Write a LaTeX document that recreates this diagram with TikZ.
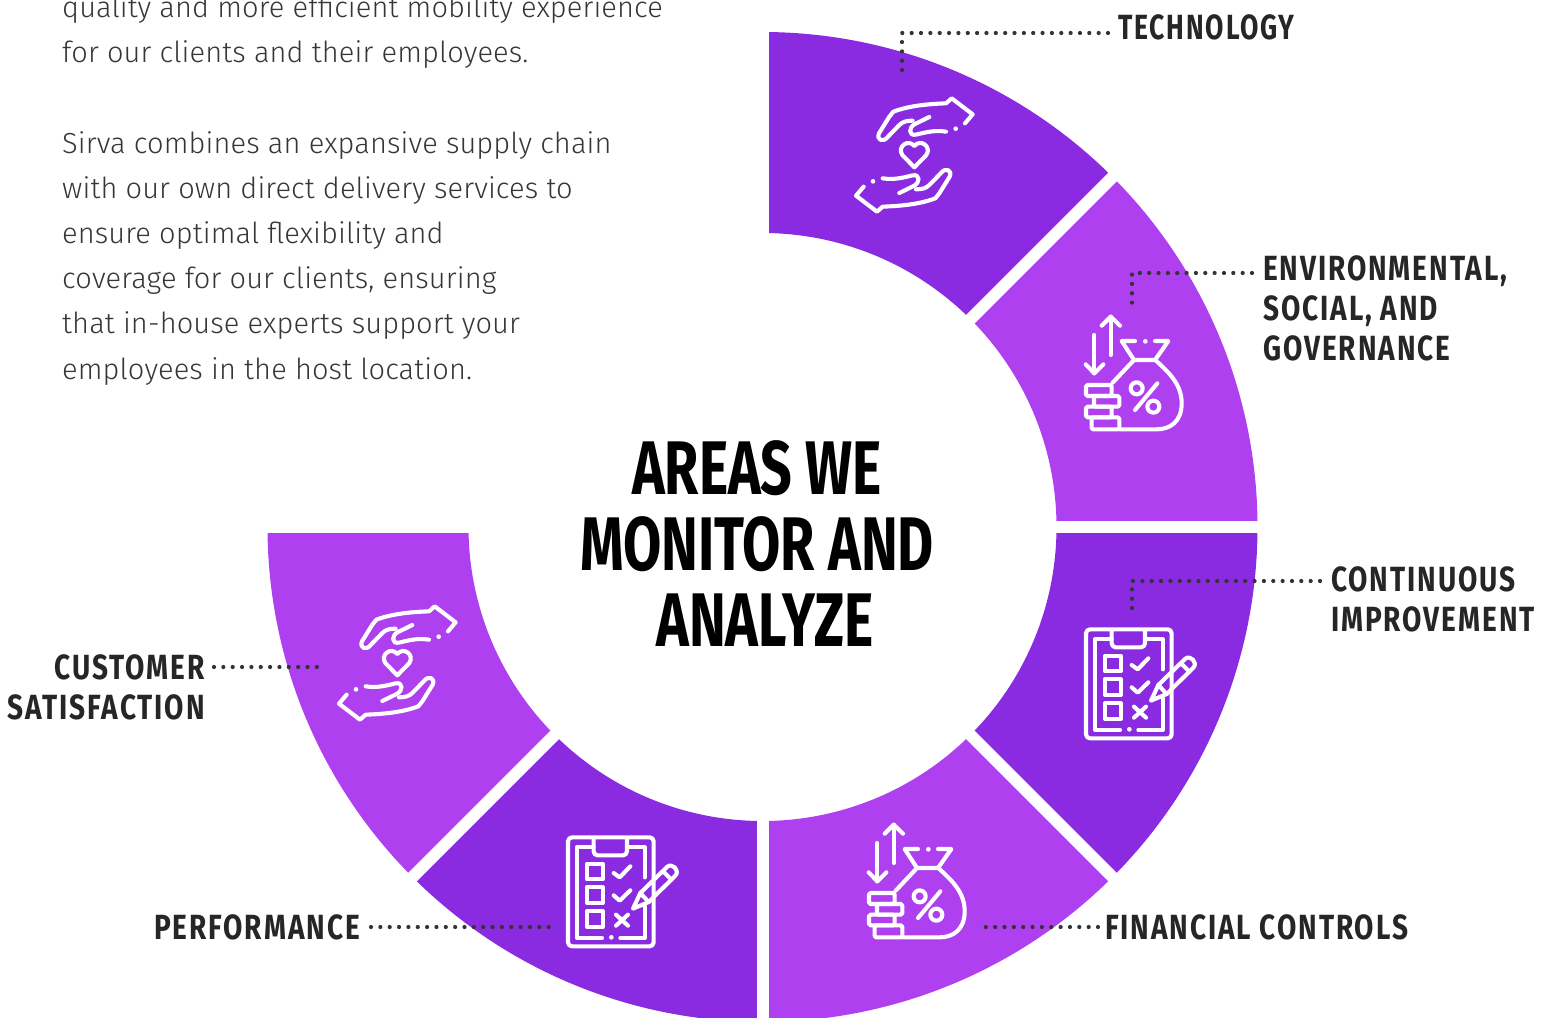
\documentclass[tikz,border=0pt]{standalone}
\usepackage{fontspec}
\usepackage{graphicx}
\setmainfont{Fira Sans Light}[BoldFont={Fira Sans Bold},LetterSpace=0.4]
\newfontfamily\headfont{Fira Sans Bold}[FakeStretch=0.73]
\newfontfamily\labelfont{Fira Sans Bold}[FakeStretch=0.8,LetterSpace=5.5]
\definecolor{darkseg}{HTML}{8A2BE2}
\definecolor{lightseg}{HTML}{AF40F0}
\definecolor{inktext}{HTML}{363636}
\definecolor{leaddot}{HTML}{333333}

\tikzset{
  iconline/.style={draw=white, line width=4.1pt, line cap=round, line join=round},
  icondot/.style={fill=white},
  leader/.style={draw=leaddot, line width=4.2pt, line cap=round, dash pattern=on 0pt off 9.35pt},
  arealabel/.style={font=\labelfont\fontsize{35}{40}\selectfont, text=black!85, inner sep=0pt},
}

\newcommand{\handsicon}[2]{
  \begin{scope}[shift={(#1,#2)}, scale=1/3]
    \foreach \turn in {0,180}{
      \begin{scope}[rotate around={\turn:(223,405)}]
        \draw[iconline] (375,310) -- (398,283) -- (335,235) -- (318,250)
          .. controls (260,252) and (205,258) .. (160,275) -- (148,290) -- (117,340)
          .. controls (108,360) and (130,368) .. (142,352) -- (178,315)
          .. controls (188,305) and (200,302) .. (218,302);
        \draw[iconline] (268,291) -- (225,312) .. controls (205,322) and (205,348) .. (228,344)
          .. controls (260,336) and (285,330) .. (318,335);
        \fill[icondot] (347,326) circle (7);
      \end{scope}
    }
    \draw[iconline] (223,442) -- (187,405) .. controls (170,380) and (205,355) .. (223,378)
      .. controls (241,355) and (276,380) .. (259,405) -- cycle;
  \end{scope}
}

\newcommand{\bagicon}[2]{
  \begin{scope}[shift={(#1,#2)}, scale=1/3]
    \draw[iconline] (122,285) -- (122,170);
    \draw[iconline] (95,197) -- (122,170) -- (150,197);
    \draw[iconline] (73,225) -- (73,340);
    \draw[iconline] (47,313) -- (73,340) -- (100,313);
    \draw[iconline] (195,243) -- (155,243) -- (192,300) -- (255,300) -- (295,243) -- (255,243);
    \fill[icondot] (226,244) circle (7);
    \draw[iconline] (190,302) -- (128,368);
    \draw[iconline] (258,302) .. controls (300,340) and (335,375) .. (335,430)
      .. controls (335,485) and (300,508) .. (260,508) -- (150,508);
    \draw[iconline, rounded corners=1.5pt] (48,375) rectangle (125,408);
    \draw[iconline, rounded corners=1.5pt] (72,408) rectangle (148,440);
    \draw[iconline, rounded corners=1.5pt] (48,440) rectangle (125,472);
    \draw[iconline, rounded corners=1.5pt] (65,472) rectangle (148,508);
    \draw[iconline] (200,385) circle (18);
    \draw[iconline] (250,440) circle (18);
    \draw[iconline] (195,450) -- (262,370);
  \end{scope}
}

\newcommand{\clipicon}[2]{
  \begin{scope}[shift={(#1,#2)}, scale=1/3]
    \draw[iconline, rounded corners=4pt] (48,178) rectangle (305,505);
    \draw[iconline] (125,208) -- (75,208) -- (75,480) -- (150,480);
    \fill[icondot] (178,478) circle (7);
    \draw[iconline] (205,480) -- (278,480) -- (278,385);
    \draw[iconline] (225,208) -- (278,208) -- (278,298);
    \draw[iconline, rounded corners=4pt] (125,180) -- (125,232) -- (225,232) -- (225,180);
    \foreach \boxy in {257,328,400}{
      \draw[iconline] (105,\boxy) rectangle (152,\boxy+47);
    }
    \draw[iconline] (185,285) -- (203,298) -- (235,265);
    \draw[iconline] (185,352) -- (203,368) -- (235,337);
    \draw[iconline] (192,410) -- (228,443);
    \draw[iconline] (228,410) -- (192,443);
    \draw[iconline] (243,392) -- (265,345) -- (345,267)
      .. controls (360,252) and (385,278) .. (370,293) -- (290,372) -- cycle;
    \draw[iconline] (333,280) -- (358,305);
    \draw[iconline] (265,345) -- (290,372);
  \end{scope}
}

\begin{document}
\begin{tikzpicture}[x=1pt, y=-1pt]
  \useasboundingbox (0,0) rectangle (1552,1017);
  \clip (0,0) rectangle (1552,1017);

  % ring
  \coordinate (hub) at (762.5,527);
  \foreach \a/\segcol in {-90/darkseg,-45/lightseg,0/darkseg,45/lightseg,90/darkseg,135/lightseg}{
    \fill[\segcol, shift={(hub)}] (\a:495) arc[start angle=\a, end angle=\a+45, radius=495]
      -- (\a+45:294) arc[start angle=\a+45, end angle=\a, radius=294] -- cycle;
  }
  \foreach \a in {-90,-45,0,45,90,135,180}{
    \draw[white, line width=12pt, shift={(hub)}] (\a:280) -- (\a:510);
  }

  % icons
  \handsicon{840}{20}
  \handsicon{323}{528}
  \bagicon{1070}{260}
  \bagicon{853}{768}
  \clipicon{1070}{570}
  \clipicon{552}{778}

  % text
  \node[anchor=north west, inner sep=0pt, align=left, text=inktext,
        font=\fontsize{29}{45.2}\selectfont] (introtext) at (62,-4.5) {%
    quality and more efficient mobility experience\\
    for our clients and their employees.\\[45.2pt]
    Sirva combines an expansive supply chain\\
    with our own direct delivery services to\\
    ensure optimal flexibility and\\
    coverage for our clients, ensuring\\
    that in-house experts support your\\
    employees in the host location.};

  \node[align=center, inner sep=0pt, text=black, font=\headfont\fontsize{76}{76}\selectfont] (areastitle) at (757,544) {%
    AREAS WE\\
    MONITOR AND\\
    \hspace*{16pt}ANALYZE};

  % labels
  \node[arealabel, anchor=west] (techlabel) at (1118,27) {\scalebox{0.95}[1]{TECHNOLOGY}};
  \node[arealabel, anchor=north west, align=left] (envlabel) at (1263,255) {ENVIRONMENTAL,\\SOCIAL, AND\\GOVERNANCE};
  \node[arealabel, anchor=north west, align=left] (contlabel) at (1331,566) {CONTINUOUS\\IMPROVEMENT};
  \node[arealabel, anchor=west] (finlabel) at (1105,927) {FINANCIAL CONTROLS};
  \node[arealabel, anchor=east] (perflabel) at (360,927) {PERFORMANCE};
  \node[arealabel, anchor=north east, align=right] (custlabel) at (205,654) {CUSTOMER\\SATISFACTION};

  % leaders
  \coordinate (techend) at (902,75);
  \coordinate (envend) at (1132,305);
  \coordinate (contend) at (1132,612);
  \coordinate (finend) at (983,927);
  \coordinate (perfend) at (552,927);
  \coordinate (custend) at (320,667);
  \draw[leader] ([xshift=-10pt,yshift=-6pt]techlabel.west) -| (techend);
  \draw[leader] ([xshift=-11pt,yshift=-18pt]envlabel.north west) -| (envend);
  \draw[leader] ([xshift=-11pt,yshift=-15pt]contlabel.north west) -| (contend);
  \draw[leader] ([xshift=-7pt]finlabel.west) -- (finend);
  \draw[leader] ([xshift=11pt]perflabel.east) -- (perfend);
  \draw[leader] ([xshift=9pt,yshift=-13pt]custlabel.north east) -- (custend);
\end{tikzpicture}
\end{document}
